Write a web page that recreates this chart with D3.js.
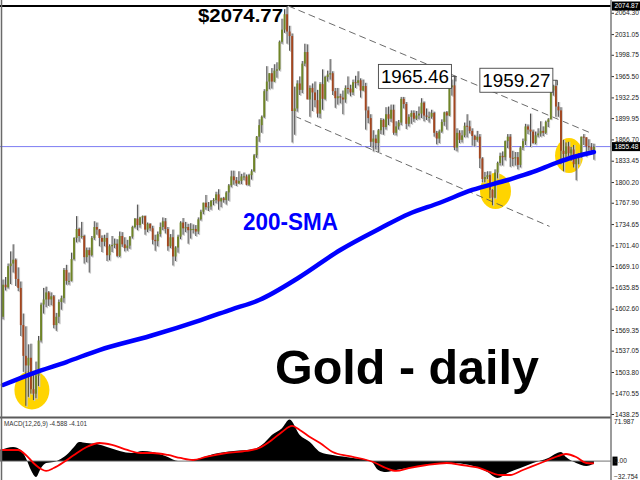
<!DOCTYPE html>
<html><head><meta charset="utf-8">
<script src="https://cdn.jsdelivr.net/npm/d3@7"></script>
<style>body{margin:0;background:#fff}svg{display:block;font-family:"Liberation Sans",Arial,sans-serif}</style>
</head><body><svg id="c" width="640" height="480"></svg>
<script>
// Daily candles [open, high, low, close], Mar 2020 -> Jan 2021
const ohlc = [
[1590,1648,1586,1640],[1640,1652,1631,1636],[1636,1673,1634,1669],[1669,1692,1641,1673],[1673,1703,1659,1679],
[1679,1681,1638,1649],[1649,1667,1630,1635],[1635,1645,1560,1577],[1577,1595,1504,1529],[1529,1575,1451,1514],
[1514,1547,1465,1526],[1526,1548,1470,1477],[1477,1500,1460,1470],[1470,1520,1463,1498],[1498,1560,1482,1553],
[1553,1612,1550,1609],[1609,1635,1595,1617],[1617,1637,1605,1628],[1628,1630,1607,1617],[1617,1628,1608,1622],
[1622,1624,1572,1577],[1577,1596,1568,1590],[1590,1617,1580,1613],[1613,1623,1601,1619],[1619,1666,1612,1663],
[1663,1671,1640,1646],[1646,1659,1640,1646],[1646,1690,1645,1680],[1680,1714,1678,1713],[1713,1747,1706,1727],
[1727,1729,1707,1716],[1716,1738,1712,1716],[1716,1718,1673,1683],[1683,1698,1675,1694],[1694,1698,1659,1686],
[1686,1716,1684,1713],[1713,1739,1710,1730],[1730,1737,1718,1726],[1726,1727,1700,1713],[1713,1717,1691,1707],
[1707,1718,1700,1713],[1713,1721,1677,1686],[1686,1703,1678,1700],[1700,1716,1691,1702],[1702,1712,1697,1704],
[1704,1711,1683,1685],[1685,1723,1683,1716],[1716,1722,1699,1703],[1703,1714,1692,1697],[1697,1710,1693,1701],
[1701,1716,1696,1715],[1715,1732,1712,1730],[1730,1744,1728,1743],[1743,1765,1725,1733],[1733,1746,1729,1745],
[1745,1748,1735,1747],[1747,1748,1718,1726],[1726,1737,1722,1735],[1735,1736,1724,1728],[1728,1732,1703,1710],
[1710,1718,1693,1708],[1708,1723,1700,1719],[1719,1737,1715,1730],[1730,1745,1725,1739],[1739,1744,1720,1727],
[1727,1730,1693,1700],[1700,1719,1697,1714],[1714,1726,1670,1684],[1684,1700,1677,1698],[1698,1718,1690,1715],
[1715,1739,1711,1737],[1737,1744,1718,1728],[1728,1738,1722,1730],[1730,1735,1704,1725],[1725,1736,1712,1727],
[1727,1734,1720,1727],[1727,1733,1716,1723],[1723,1745,1719,1742],[1742,1757,1740,1754],[1754,1768,1750,1768],
[1768,1780,1757,1761],[1761,1769,1755,1762],[1762,1772,1757,1771],[1771,1775,1764,1772],[1772,1785,1767,1781],
[1781,1789,1757,1770],[1770,1776,1761,1775],[1775,1777,1768,1772],[1772,1786,1765,1784],[1784,1797,1771,1795],
[1795,1818,1792,1809],[1809,1818,1796,1803],[1803,1808,1794,1798],[1798,1817,1797,1802],[1802,1813,1797,1809],
[1809,1815,1803,1809],[1809,1812,1795,1796],[1796,1813,1794,1811],[1811,1820,1804,1817],[1817,1844,1816,1842],
[1842,1872,1838,1871],[1871,1898,1863,1889],[1889,1904,1877,1902],[1902,1945,1900,1942],[1942,1981,1927,1957],
[1957,1970,1945,1970],[1970,1978,1946,1957],[1957,1984,1956,1974],[1974,1987,1963,1976],[1976,2021,1974,2019],
[2019,2055,2016,2038],[2038,2070,2033,2062],[2062,2075,2016,2035],[2035,2044,2005,2028],[2028,2032,1862,1911],
[1911,1949,1874,1915],[1915,1959,1910,1954],[1954,1965,1936,1944],[1944,1989,1939,1985],[1985,2016,1981,2003],
[2003,2015,1930,1929],[1929,1951,1902,1947],[1947,1954,1911,1940],[1940,1957,1917,1928],[1928,1944,1901,1907],
[1907,1956,1900,1953],[1953,1976,1913,1930],[1930,1966,1928,1964],[1964,1974,1957,1968],[1968,1992,1960,1970],
[1970,1973,1936,1942],[1942,1947,1916,1931],[1931,1947,1921,1934],[1934,1938,1923,1932],[1932,1943,1906,1929],
[1929,1951,1924,1947],[1947,1965,1938,1946],[1946,1952,1934,1940],[1940,1960,1936,1956],[1956,1966,1947,1955],
[1955,1973,1951,1959],[1959,1962,1932,1943],[1943,1960,1942,1950],[1950,1955,1882,1912],[1912,1918,1892,1900],
[1900,1906,1855,1863],[1863,1881,1848,1868],[1868,1874,1851,1861],[1861,1883,1847,1881],[1881,1900,1875,1897],
[1897,1899,1874,1886],[1886,1917,1882,1906],[1906,1918,1889,1899],[1899,1921,1894,1913],[1913,1921,1874,1877],
[1877,1895,1873,1887],[1887,1897,1882,1893],[1893,1933,1889,1930],[1930,1933,1915,1922],[1922,1925,1883,1891],
[1891,1906,1887,1902],[1902,1912,1891,1908],[1908,1912,1894,1899],[1899,1911,1897,1904],[1904,1918,1898,1907],
[1907,1931,1900,1924],[1924,1926,1895,1904],[1904,1915,1897,1902],[1902,1910,1893,1902],[1902,1913,1899,1908],
[1908,1910,1871,1877],[1877,1880,1859,1868],[1868,1882,1861,1879],[1879,1898,1877,1894],[1894,1910,1888,1909],
[1909,1911,1882,1904],[1904,1951,1903,1948],[1948,1960,1935,1951],[1951,1965,1850,1854],[1854,1884,1848,1877],
[1877,1881,1861,1866],[1866,1881,1862,1873],[1873,1893,1870,1888],[1888,1906,1870,1887],[1887,1896,1876,1880],
[1880,1884,1857,1872],[1872,1874,1856,1866],[1866,1880,1863,1871],[1871,1875,1822,1837],[1837,1839,1800,1805],
[1805,1816,1800,1808],[1808,1817,1805,1811],[1811,1817,1775,1788],[1788,1789,1764,1776],[1776,1820,1775,1815],
[1815,1832,1806,1830],[1830,1846,1826,1841],[1841,1848,1826,1839],[1839,1865,1834,1864],[1864,1875,1853,1871],
[1871,1875,1824,1838],[1838,1849,1825,1837],[1837,1847,1826,1839],[1839,1847,1820,1827],[1827,1856,1823,1854],
[1854,1868,1850,1864],[1864,1891,1858,1887],[1887,1890,1875,1882],[1882,1907,1855,1879],[1879,1882,1860,1861],
[1861,1879,1859,1873],[1873,1884,1870,1876],[1876,1895,1871,1880],[1880,1887,1872,1877],[1877,1896,1875,1894],
[1894,1900,1886,1898],[1898,1944,1898,1943],[1943,1952,1935,1950],[1950,1959,1902,1918],[1918,1925,1902,1912],
[1912,1917,1828,1849],[1849,1866,1817,1844],[1844,1862,1839,1856],[1856,1863,1841,1845],[1845,1855,1833,1851],
[1851,1858,1823,1828],[1828,1843,1803,1840],[1840,1845,1828,1840],[1840,1871,1838,1871],[1871,1875,1858,1870],
[1870,1870,1840,1856],[1856,1867,1849,1855],[1855,1861,1845,1850],[1850,1860,1835,1855]
];
const priceTicks = [2064.30,2031.05,1998.75,1965.50,1932.25,1899.95,1866.70,1833.45,1800.20,1767.90,1734.65,1701.40,1669.10,1635.85,1602.60,1569.35,1537.05,1503.80,1470.55,1438.25];
const topPrice = 2074.87;
const lastPrice = 1855.48;
// 200-day SMA read at bar indices
const smaIdx = [0,12,25,38,58,78,90,101,117,133,149,160,172,185,199,209,218,225,233];
const smaVal = [1483.5,1502.2,1519.4,1538.1,1560.0,1584.9,1601.3,1616.1,1652.0,1694.2,1728.5,1750.4,1767.5,1787.8,1803.4,1815.9,1829.9,1839.3,1847.1];
// MACD main (histogram) and signal read at bar indices
const macdIdx = [-1,4,7,9,11,13,15,17,20,22,25,28,30,33,37,41,46,51,55,59,65,69,73,78,83,91,99,103,106,110,113,117,121,125,130,138,145,148,151,155,162,167,177,184,191,195,199,204,209,215,220,222,226,230,233];
const macdVal = [19.2,24.4,19.2,5.4,-15.4,-27.5,-12,-3.3,-1.6,1.9,10.6,24.4,33,31.3,29.6,24.4,17.5,14,17.5,15.8,7.1,0.2,0.2,5.4,12.3,17.5,21,31.3,45,57,71.987,45,33,15.8,10.6,5.4,0.2,-15.4,-18.9,-15.4,-10.2,-6.8,-3.3,-6.8,-18.9,-29.2,-20.6,-12,-3.3,5.4,15.8,7.1,-3.3,-8.5,-4.588];
const signalIdx = [-1,6,9,12,15,17,20,24,28,33,38,43,49,54,59,65,70,75,80,88,96,101,106,110,114,117,121,125,130,136,142,146,151,155,160,167,175,181,188,196,200,205,212,217,222,226,230,233];
const signalVal = [19.2,19.2,10.6,-3.3,-13.7,-17.1,-12,-1.6,10.6,24.4,31.3,27.9,19.2,14,14,10.6,5.4,1.9,7.1,14,17.5,22.7,36.5,50.4,60.8,53.9,41.7,31.3,15.8,8.8,3.6,-1.6,-12,-17.1,-12,-6.8,-3.3,-6.8,-12,-24.1,-24.1,-15.4,-3.3,5.4,12.3,7.1,-3.3,-4.101];
const macdTop = 71.987, macdBottom = -32.754;
// annotations (bar index, price)
const circleIdx = [11.4, 194.2, 223.2];
const circlePrice = [1475.7, 1786.2, 1841.6];
const upperChannel = [[112.5,2075],[231,1878]];
const lowerChannel = [[115,1903],[215.5,1731]];
const peakIdx = 112, peakText = "$2074.77";
const boxIdx = [178, 218];
const boxText = ["1965.46","1959.27"];

const svg = d3.select("#c");
const AX = 611, MAINB = 417;
const x = d3.scaleLinear().domain([0, ohlc.length-1]).range([3, 593.9]);
const y = d3.scaleLinear().domain([1433.59, 2084.23]).range([MAINB, 0]);
const ym = d3.scaleLinear().domain([macdBottom, macdTop]).range([480, 419.5]);
const FONT = "'Liberation Sans',Arial,sans-serif";

svg.append("rect").attr("width",640).attr("height",480).attr("fill","#fff");
const defs = svg.append("defs");
defs.append("clipPath").attr("id","cm").append("rect").attr("x",0).attr("y",0).attr("width",AX).attr("height",MAINB);
defs.append("clipPath").attr("id","cd").append("rect").attr("x",0).attr("y",MAINB+1).attr("width",AX).attr("height",480-MAINB);

const main = svg.append("g").attr("clip-path","url(#cm)");
main.append("line").attr("x1",0).attr("x2",AX).attr("y1",y(lastPrice)).attr("y2",y(lastPrice)).attr("stroke","#7c7cf2").attr("stroke-width",1);
main.append("line").attr("x1",0).attr("x2",AX).attr("y1",y(topPrice)).attr("y2",y(topPrice)).attr("stroke","#000").attr("stroke-width",2.2);

const rxs=[17.5,15.5,14], rys=[19.5,18,17.5];
main.selectAll(".circ").data(circleIdx).join("ellipse")
  .attr("cx",(d)=>x(d)).attr("cy",(d,i)=>y(circlePrice[i]))
  .attr("rx",(d,i)=>rxs[i]).attr("ry",(d,i)=>rys[i]).attr("fill","#ffd400");

const lineXY = d3.line().x(d=>x(d[0])).y(d=>y(d[1]));
[upperChannel, lowerChannel].forEach(ch=>{
  main.append("path").attr("d",lineXY(ch)).attr("fill","none").attr("stroke","#5a5a5a")
    .attr("stroke-width",0.9).attr("stroke-dasharray","7,4");
});

const cg = main.append("g");
cg.selectAll(".sh").data(ohlc).join("line")
  .attr("x1",(d,i)=>x(i)+1.1).attr("x2",(d,i)=>x(i)+1.1)
  .attr("y1",d=>y(d[1])).attr("y2",d=>y(d[2])+1).attr("stroke","#c6c6c6").attr("stroke-width",1.5);
cg.selectAll(".wk").data(ohlc).join("line")
  .attr("x1",(d,i)=>x(i)).attr("x2",(d,i)=>x(i))
  .attr("y1",d=>y(d[1])).attr("y2",d=>y(d[2])).attr("stroke","#3c3c3c").attr("stroke-width",0.9);
cg.selectAll(".bd").data(ohlc).join("rect")
  .attr("x",(d,i)=>x(i)-0.9).attr("width",1.9)
  .attr("y",d=>Math.min(y(d[0]),y(d[3])))
  .attr("height",d=>Math.max(1,Math.abs(y(d[0])-y(d[3]))))
  .attr("fill",d=>d[3]>=d[0]?"#6f8526":"#a3461f");

const smaLine = d3.line().x(d=>x(d[0])).y(d=>y(d[1])).curve(d3.curveMonotoneX);
main.append("path").attr("d",smaLine(smaIdx.map((d,i)=>[d,smaVal[i]])))
  .attr("fill","none").attr("stroke","#0000ff").attr("stroke-width",4.5).attr("stroke-linecap","round");

// texts
main.append("text").attr("x",x(peakIdx)-4).attr("y",y(2075)+16.5).attr("text-anchor","end")
  .attr("font-size",18).attr("font-weight","bold").attr("fill","#000")
  .attr("textLength",85).attr("lengthAdjust","spacingAndGlyphs").text(peakText);
boxIdx.forEach((bi,k)=>{
  const cx = x(bi), cy = y(ohlc[bi][1]);
  const bw = 73, bh = 24, right = cx-3;
  main.append("line").attr("x1",right).attr("x2",cx+1.5).attr("y1",cy).attr("y2",cy).attr("stroke","#333").attr("stroke-width",0.8);
  main.append("line").attr("x1",cx+1.5).attr("x2",cx+1.5).attr("y1",cy).attr("y2",cy+5).attr("stroke","#333").attr("stroke-width",0.8);
  main.append("rect").attr("x",right-bw).attr("y",cy-bh/2).attr("width",bw).attr("height",bh)
    .attr("fill","#fff").attr("stroke","#444").attr("stroke-width",0.9);
  main.append("text").attr("x",right-bw/2).attr("y",cy+6.8).attr("text-anchor","middle")
    .attr("font-size",18.5).attr("fill","#000").attr("textLength",68).attr("lengthAdjust","spacingAndGlyphs").text(boxText[k]);
});
main.append("text").attr("x",243).attr("y",230).attr("font-size",23).attr("font-weight","bold")
  .attr("fill","#0000ff").attr("textLength",95).attr("lengthAdjust","spacingAndGlyphs").text("200-SMA");
main.append("text").attr("x",275).attr("y",384).attr("font-size",48).attr("font-weight","bold")
  .attr("fill","#000").attr("textLength",264).attr("lengthAdjust","spacingAndGlyphs").text("Gold - daily");

// price axis
const axG = svg.append("g").attr("transform",`translate(${AX},0)`)
  .call(d3.axisRight(y).tickValues(priceTicks).tickFormat(d3.format(".2f")).tickSize(3).tickPadding(1));
axG.select(".domain").remove();
axG.selectAll("line").attr("stroke","#333");
axG.selectAll("text").attr("font-size",6.6).attr("fill","#222").attr("font-family",FONT);
[topPrice,lastPrice].forEach(p=>{
  svg.append("rect").attr("x",AX+1).attr("y",y(p)-4.5).attr("width",29).attr("height",9).attr("fill","#000");
  svg.append("text").attr("x",AX+3.5).attr("y",y(p)).attr("dy","0.33em").attr("font-size",6.6)
    .attr("font-family",FONT).attr("fill","#fff").text(p.toFixed(2));
});

// MACD panel
const dg = svg.append("g").attr("clip-path","url(#cd)");
const histArea = d3.area().x(d=>x(d[0])).y0(ym(0)).y1(d=>ym(d[1])).curve(d3.curveMonotoneX);
dg.append("path").attr("d",histArea(macdIdx.map((d,i)=>[d,macdVal[i]]))).attr("fill","#000");
dg.append("line").attr("x1",0).attr("x2",AX).attr("y1",ym(0)).attr("y2",ym(0)).attr("stroke","#707070").attr("stroke-width",1);
const sigLine = d3.line().x(d=>x(d[0])).y(d=>ym(d[1])).curve(d3.curveMonotoneX);
dg.append("path").attr("d",sigLine(signalIdx.map((d,i)=>[d,signalVal[i]]))).attr("fill","none").attr("stroke","#ff0000").attr("stroke-width",1.8);
svg.append("text").attr("x",4).attr("y",426).attr("font-size",6.3).attr("fill","#333").attr("font-family",FONT)
  .text(`MACD(12,26,9) ${macdVal[macdVal.length-1]} ${signalVal[signalVal.length-1]}`);

svg.append("rect").attr("x",AX+1.5).attr("y",ym(0)-4.5).attr("width",5).attr("height",9).attr("fill","#000");
const maxG = svg.append("g").attr("transform",`translate(${AX},0)`)
  .call(d3.axisRight(ym).tickValues([macdTop,0,macdBottom]).tickFormat(d=>d===0?"0.00":d3.format(".3f")(d)).tickSize(0).tickPadding(3));
maxG.select(".domain").remove();
maxG.selectAll(".tick").attr("transform",(d)=>`translate(0,${d===macdTop?422:d===0?ym(0):476.5})`);
maxG.selectAll("text").attr("font-size",6.6).attr("fill","#222").attr("font-family",FONT);

// frame
svg.append("line").attr("x1",0).attr("x2",AX).attr("y1",MAINB+0.5).attr("y2",MAINB+0.5).attr("stroke","#5a5a5a").attr("stroke-width",2);
svg.append("line").attr("x1",AX).attr("x2",AX).attr("y1",0).attr("y2",480).attr("stroke","#7a7a7a").attr("stroke-width",1.5);
svg.append("line").attr("x1",1.5).attr("x2",1.5).attr("y1",0).attr("y2",480).attr("stroke","#6a6a6a").attr("stroke-width",1.5);
</script>
</body></html>
